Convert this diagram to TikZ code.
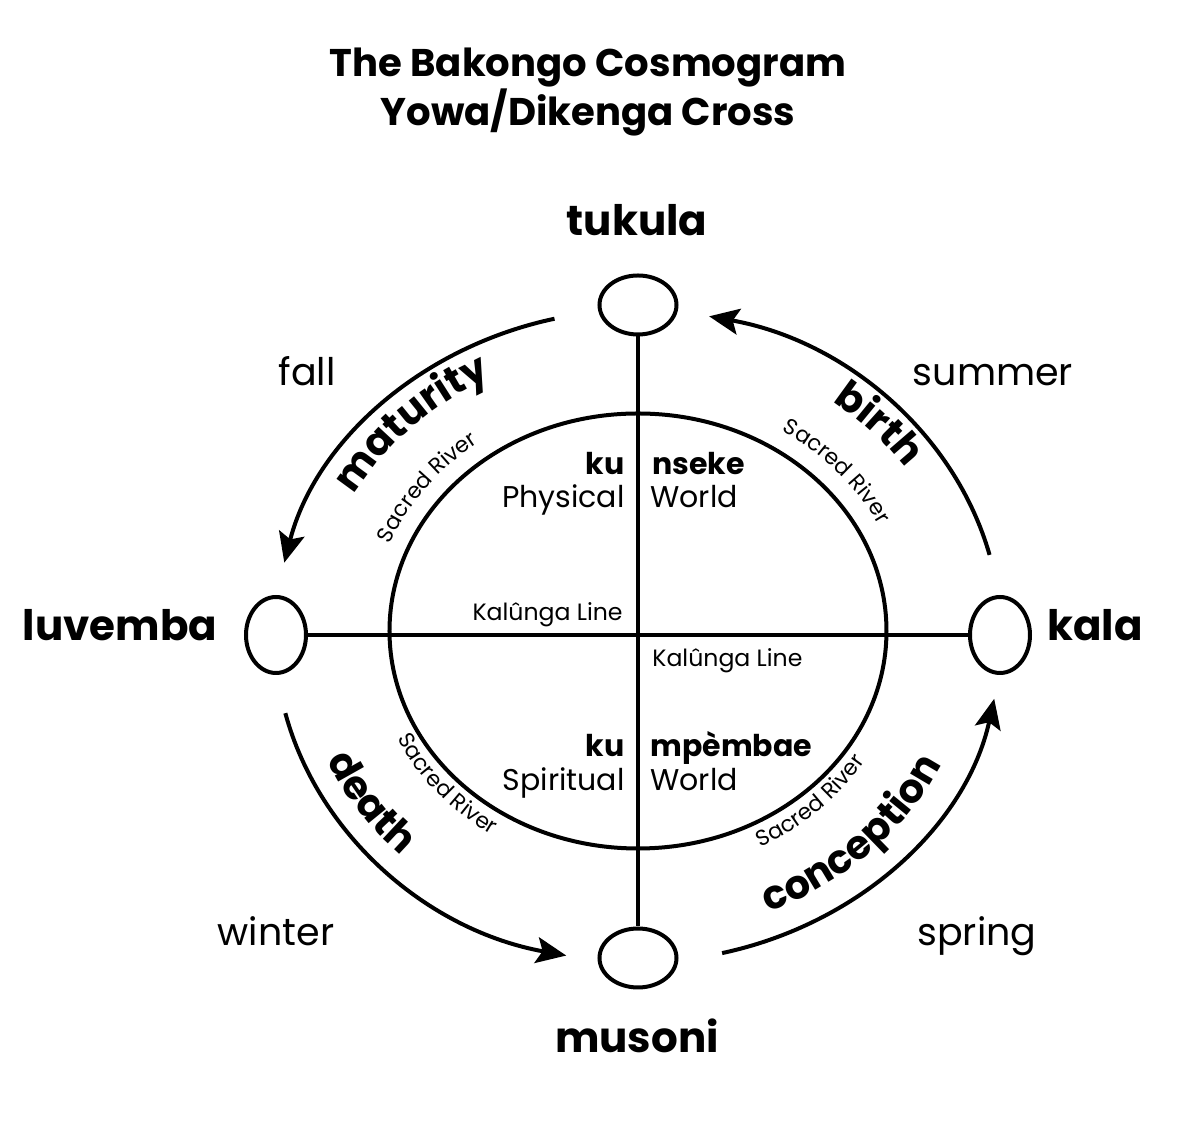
\documentclass[tikz,border=0pt]{standalone}
\usepackage{fontspec}
\setmainfont{Poppins}
\usetikzlibrary{shapes.geometric,arrows.meta,decorations.text}
\newcommand\arcbf{\fontsize{20}{20}\selectfont\bfseries}
\newcommand\arcsm{\fontsize{11}{11}\selectfont}
\begin{document}
\begin{tikzpicture}[x=0.5pt,y=0.5pt,
  hub/.style={ellipse, draw, line width=2pt, inner sep=0pt},
  hubh/.style={hub, minimum width=38.5pt, minimum height=29.5pt},
  hubv/.style={hub, minimum width=30pt, minimum height=38pt},
  stroke/.style={line width=2pt},
  arrowarc/.style={line width=2pt, -{Stealth[length=15pt,width=13pt,inset=3pt]}},
  dirlabel/.style={font=\fontsize{21}{25}\selectfont\bfseries, anchor=base, inner sep=0pt},
  season/.style={font=\fontsize{19}{23}\selectfont, anchor=base, inner sep=0pt},
  worldbf/.style={font=\fontsize{15}{18}\selectfont\bfseries, inner sep=0pt},
  worldrm/.style={font=\fontsize{15}{18}\selectfont, inner sep=0pt},
  kal/.style={font=\fontsize{11.8}{13}\selectfont, inner sep=0pt},
  title/.style={font=\fontsize{19.3}{21.5}\selectfont\bfseries, align=center, inner sep=0pt}
]
\useasboundingbox (-638,-491) rectangle (556,636);
\fill[white] (-638,-491) rectangle (556,636);

% title
\node[title] (title) at (-50,544) {The Bakongo Cosmogram\\Yowa/Dikenga Cross};

% inner world circle
\node[ellipse, draw, line width=2pt, inner sep=0pt, minimum width=248.5pt, minimum height=217.5pt] (world) at (0,5) {};

% four hubs
\node[hubh] (top) at (0,331) {};
\node[hubh] (bottom) at (0,-322) {};
\node[hubv] (left) at (-362,1) {};
\node[hubv] (right) at (362,1) {};

% cross
\draw[stroke] (top) -- (bottom);
\draw[stroke] (left) -- (right);

% direction labels
\node[dirlabel] (tukula) at (-1,400) {tukula};
\node[dirlabel] (musoni) at (-1,-417) {musoni};
\node[dirlabel] (luvemba) at (-518,-5) {luvemba};
\node[dirlabel] (kala) at (457,-5) {kala};

% seasons
\node[season] (fall) at (-331,250) {fall};
\node[season] (summer) at (355,250) {summer};
\node[season] (winter) at (-362,-310) {winter};
\node[season] (spring) at (339,-310) {spring};

% worlds
\node[worldbf, anchor=base east] (ku1) at (-13,161) {ku};
\node[worldrm, anchor=base east] (phys) at (-13,128) {Physical};
\node[worldbf, anchor=base west] (nseke) at (14,161) {nseke};
\node[worldrm, anchor=base west] (world1) at (12,128) {World};
\node[worldbf, anchor=base east] (ku2) at (-13,-121) {ku};
\node[worldrm, anchor=base east] (spir) at (-13,-155) {Spiritual};
\node[worldbf, anchor=base west] (mpe) at (12,-121) {mpèmbae};
\node[worldrm, anchor=base west] (world2) at (12,-155) {World};

% Kalunga line labels
\node[kal, anchor=base east] (kal1) at (-15,15) {Kalûnga Line};
\node[kal, anchor=base west] (kal2) at (14,-31) {Kalûnga Line};

% cycle arrows
\coordinate (tls) at ({363*cos(103.3)},{326*sin(103.3)});
\coordinate (bls) at ({363*cos(193.7)},{326*sin(193.7)});
\coordinate (brs) at ({363*cos(283.4)},{326*sin(283.4)});
\coordinate (trs) at ({363*cos(14.4)},{326*sin(14.4)});
\draw[arrowarc] (tls) arc[start angle=103.3, end angle=167, x radius=363, y radius=326];
\draw[arrowarc] (bls) arc[start angle=193.7, end angle=258.6, x radius=363, y radius=326];
\draw[arrowarc] (brs) arc[start angle=283.4, end angle=348.9, x radius=363, y radius=326];
\draw[arrowarc] (trs) arc[start angle=14.4, end angle=78.7, x radius=363, y radius=326];

% curved bold labels (top: clockwise, bottom: counter-clockwise)
\path[decorate, decoration={text along path, text={|\arcbf|maturity}, text align=center}]
  ({1.12*290*cos(175)},{290*sin(175)}) arc[start angle=175, end angle=95, x radius={1.12*290}, y radius=290];
\path[decorate, decoration={text along path, text={|\arcbf|birth}, text align=center}]
  ({1.12*292*cos(83)},{292*sin(83)}) arc[start angle=83, end angle=3, x radius={1.12*292}, y radius=292];
\path[decorate, decoration={text along path, text={|\arcbf|death}, text align=center}]
  ({1.12*305*cos(174)},{305*sin(174)}) arc[start angle=174, end angle=254, x radius={1.12*305}, y radius=305];
\path[decorate, decoration={text along path, text={|\arcbf|conception}, text align=center}]
  ({1.12*300*cos(270)},{300*sin(270)}) arc[start angle=270, end angle=360, x radius={1.12*300}, y radius=300];

% sacred river labels
\path[decorate, decoration={text along path, text={|\arcsm|Sacred River}, text align=center}]
  ({1.12*240*cos(183)},{240*sin(183)}) arc[start angle=183, end angle=103, x radius={1.12*240}, y radius=240];
\path[decorate, decoration={text along path, text={|\arcsm|Sacred River}, text align=center}]
  ({1.12*242*cos(81.5)},{242*sin(81.5)}) arc[start angle=81.5, end angle=1.5, x radius={1.12*242}, y radius=242];
\path[decorate, decoration={text along path, text={|\arcsm|Sacred River}, text align=center}]
  ({1.12*238*cos(180)},{238*sin(180)}) arc[start angle=180, end angle=260, x radius={1.12*238}, y radius=238];
\path[decorate, decoration={text along path, text={|\arcsm|Sacred River}, text align=center}]
  ({1.12*238*cos(274)},{238*sin(274)}) arc[start angle=274, end angle=354, x radius={1.12*238}, y radius=238];
\end{tikzpicture}
\end{document}
